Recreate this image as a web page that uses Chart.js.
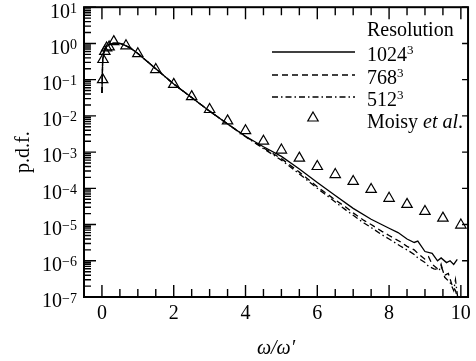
<!DOCTYPE html>
<html>
<head>
<meta charset="utf-8">
<script src="https://cdn.jsdelivr.net/npm/chart.js@4/dist/chart.umd.min.js"></script>
<style>
  html, body { margin: 0; padding: 0; background: #fff; }
  #wrap { width: 476px; height: 361px; }
</style>
</head>
<body>
<div id="wrap"><canvas id="pdfChart"></canvas></div>
<script>
// vorticity magnitude p.d.f. for three grid resolutions + Moisy et al. data
const x1024 = [0, 0.02, 0.06, 0.12, 0.2, 0.3, 0.4, 0.5, 0.6, 0.8, 1.0, 1.5, 2.0, 2.5, 3.0, 3.5, 4.0, 4.5, 5.0, 5.5, 6.0, 6.5, 7.0, 7.5, 8.0, 8.25, 8.5, 8.7, 8.8, 9.0, 9.2, 9.35, 9.45, 9.6, 9.7, 9.8, 9.9];
const pdf1024 = [4.3e-2, 0.35, 0.6, 0.8, 0.92, 1.0, 1.02, 1.0, 0.93, 0.74, 0.53, 0.2, 7.6e-2, 3.2e-2, 1.35e-2, 6.0e-3, 2.75e-3, 1.4e-3, 7.6e-4, 3.4e-4, 1.45e-4, 6.3e-5, 2.8e-5, 1.4e-5, 7.9e-6, 6.0e-6, 4.0e-6, 3.2e-6, 3.5e-6, 1.8e-6, 1.6e-6, 1.0e-6, 1.2e-6, 8.9e-7, 1.0e-6, 7.9e-7, 1.1e-6];

const x768 = [0, 0.02, 0.06, 0.12, 0.2, 0.3, 0.4, 0.5, 0.6, 0.8, 1.0, 1.5, 2.0, 2.5, 3.0, 3.5, 4.0, 4.5, 5.0, 5.5, 6.0, 6.5, 6.8, 7.0, 7.3, 7.5, 7.8, 8.0, 8.3, 8.5, 8.7, 8.8, 9.0, 9.1, 9.2, 9.35, 9.45, 9.55, 9.65, 9.75, 9.85, 9.9, 9.95];
const pdf768 = [4.3e-2, 0.35, 0.6, 0.8, 0.92, 1.0, 1.02, 1.0, 0.93, 0.74, 0.53, 0.2, 7.6e-2, 3.2e-2, 1.35e-2, 6.0e-3, 2.7e-3, 1.3e-3, 6.6e-4, 2.8e-4, 1.1e-4, 4.8e-5, 3.0e-5, 2.1e-5, 1.3e-5, 1.0e-5, 6.5e-6, 5.0e-6, 3.4e-6, 2.5e-6, 2.0e-6, 1.6e-6, 1.1e-6, 1.3e-6, 8.0e-7, 6.0e-7, 7.0e-7, 4.0e-7, 4.5e-7, 2.2e-7, 1.5e-7, 1.0e-7, 6.0e-8];

const x512 = [0, 0.02, 0.06, 0.12, 0.2, 0.3, 0.4, 0.5, 0.6, 0.8, 1.0, 1.5, 2.0, 2.5, 3.0, 3.5, 4.0, 4.5, 5.0, 5.5, 6.0, 6.5, 6.8, 7.0, 7.3, 7.5, 7.8, 8.0, 8.3, 8.5, 8.7, 8.8, 9.0, 9.1, 9.25, 9.4, 9.45, 9.55, 9.7, 9.8, 9.85, 9.9, 9.95];
const pdf512 = [4.3e-2, 0.35, 0.6, 0.8, 0.92, 1.0, 1.02, 1.0, 0.93, 0.74, 0.53, 0.2, 7.5e-2, 3.2e-2, 1.35e-2, 6.0e-3, 2.65e-3, 1.25e-3, 6.0e-4, 2.5e-4, 1.0e-4, 4.2e-5, 2.5e-5, 1.8e-5, 1.1e-5, 8.3e-6, 5.2e-6, 4.0e-6, 2.6e-6, 2.0e-6, 1.5e-6, 1.2e-6, 9.0e-7, 7.0e-7, 6.0e-7, 5.5e-7, 8.0e-7, 3.5e-7, 2.5e-7, 1.5e-7, 3.0e-7, 1.2e-7, 5.0e-8];

const xMoisy = [0.02, 0.03, 0.08, 0.13, 0.2, 0.33, 0.67, 1.0, 1.5, 2.0, 2.5, 3.0, 3.5, 4.0, 4.5, 5.0, 5.5, 6.0, 6.5, 7.0, 7.5, 8.0, 8.5, 9.0, 9.5, 10.0];
const pdfMoisy = [0.1, 0.36, 0.6, 0.75, 0.8, 1.12, 0.86, 0.52, 0.19, 7.4e-2, 3.4e-2, 1.5e-2, 7.3e-3, 3.9e-3, 2.0e-3, 1.14e-3, 6.8e-4, 4.0e-4, 2.4e-4, 1.55e-4, 9.3e-5, 5.3e-5, 3.6e-5, 2.3e-5, 1.5e-5, 9.7e-6];

const seriesNames = ['1024', '768', '512', 'Moisy'];
const xTickValues = [0, 2, 4, 6, 8, 10];
const yTickPowers = [-7, -6, -5, -4, -3, -2, -1, 0, 1];

const serif = "'Liberation Serif', 'Times New Roman', serif";
const dashSolid = [];
const dashDashed = [6, 4];
const dashDot = [6, 3, 1.5, 3];

const toPoints = (xs, ys) => xs.map((x, i) => ({ x: x, y: ys[i] }));

function lineSet(label, xs, ys, dash) {
    return {
        label: label,
        data: toPoints(xs, ys),
        showLine: true,
        borderColor: '#000',
        borderWidth: 1.3,
        borderDash: dash,
        pointRadius: 0,
        tension: 0
    };
}

// frame, inward ticks, y labels with superscripts, and the boxed-in legend
const decorations = {
    id: 'decorations',
    afterDraw(chart) {
        const { ctx, chartArea: a, scales: { x, y } } = chart;
        ctx.save();
        ctx.strokeStyle = '#000';
        ctx.fillStyle = '#000';
        ctx.lineWidth = 2;
        ctx.strokeRect(a.left, a.top, a.right - a.left, a.bottom - a.top);

        ctx.lineWidth = 1.4;
        ctx.beginPath();
        for (let v = 0; v <= 10; v += 0.5) {
            const px = x.getPixelForValue(v);
            const len = xTickValues.includes(v) ? 12 : 8;
            ctx.moveTo(px, a.bottom); ctx.lineTo(px, a.bottom - len);
            ctx.moveTo(px, a.top); ctx.lineTo(px, a.top + len);
        }
        yTickPowers.forEach(e => {
            for (let m = 1; m <= 9; m++) {
                if (e === 1 && m > 1) break;
                const py = y.getPixelForValue(m * Math.pow(10, e));
                const len = m === 1 ? 12 : 7;
                ctx.moveTo(a.left, py); ctx.lineTo(a.left + len, py);
                if (m === 1) { ctx.moveTo(a.right, py); ctx.lineTo(a.right - 6, py); }
            }
        });
        ctx.stroke();

        // y tick labels: 10 with raised exponent
        ctx.textAlign = 'right';
        ctx.textBaseline = 'alphabetic';
        yTickPowers.forEach(e => {
            const py = y.getPixelForValue(Math.pow(10, e));
            const exp = e < 0 ? '\u2212' + (-e) : String(e);
            ctx.font = '14px ' + serif;
            const ew = ctx.measureText(exp).width;
            const right = a.left - 7;
            ctx.fillText(exp, right, py + 5.5);
            ctx.font = '20px ' + serif;
            ctx.fillText('10', right - ew, py + 10.3);
        });

        // legend
        ctx.textAlign = 'left';
        ctx.font = '20px ' + serif;
        const tx = 367;
        ctx.fillText('Resolution', tx, 36);
        const rows = [
            { name: seriesNames[0], dash: dashSolid, ly: 52, by: 61 },
            { name: seriesNames[1], dash: dashDashed, ly: 75, by: 84 },
            { name: seriesNames[2], dash: dashDot, ly: 97, by: 106 }
        ];
        ctx.lineWidth = 1.3;
        rows.forEach(r => {
            ctx.setLineDash(r.dash);
            ctx.beginPath();
            ctx.moveTo(272, r.ly); ctx.lineTo(355, r.ly);
            ctx.stroke();
            ctx.setLineDash([]);
            ctx.font = '20px ' + serif;
            ctx.fillText(r.name, tx, r.by);
            const w = ctx.measureText(r.name).width;
            ctx.font = '13px ' + serif;
            ctx.fillText('3', tx + w, r.by - 7);
        });
        // Moisy et al. marker
        const cx = 313, cy = 118, rad = 6;
        ctx.lineWidth = 1.2;
        ctx.beginPath();
        ctx.moveTo(cx, cy - rad);
        ctx.lineTo(cx + rad * 0.866, cy + rad * 0.5);
        ctx.lineTo(cx - rad * 0.866, cy + rad * 0.5);
        ctx.closePath();
        ctx.stroke();
        ctx.font = '20px ' + serif;
        ctx.fillText('Moisy ', tx, 128);
        const mw = ctx.measureText('Moisy ').width;
        ctx.font = 'italic 20px ' + serif;
        ctx.fillText('et al', tx + mw, 128);
        const ew2 = ctx.measureText('et al').width;
        ctx.font = '20px ' + serif;
        ctx.fillText('.', tx + mw + ew2, 128);
        ctx.restore();
    }
};

new Chart(document.getElementById('pdfChart'), {
    type: 'scatter',
    data: {
        datasets: [
            lineSet(seriesNames[0], x1024, pdf1024, dashSolid),
            lineSet(seriesNames[1], x768, pdf768, dashDashed),
            lineSet(seriesNames[2], x512, pdf512, dashDot),
            {
                label: seriesNames[3],
                data: toPoints(xMoisy, pdfMoisy),
                pointStyle: 'triangle',
                pointRadius: 6,
                borderColor: '#000',
                borderWidth: 1.2,
                backgroundColor: 'rgba(0,0,0,0)'
            }
        ]
    },
    options: {
        responsive: true,
        maintainAspectRatio: false,
        animation: false,
        layout: { padding: { top: 7, right: 1, left: 0, bottom: 0 } },
        plugins: {
            legend: { display: false },
            tooltip: { enabled: false }
        },
        scales: {
            x: {
                type: 'linear',
                min: -0.5,
                max: 10.2,
                grid: { display: false, drawTicks: false },
                border: { display: false },
                afterBuildTicks: s => { s.ticks = xTickValues.map(v => ({ value: v })); },
                afterFit: s => { s.height = 64; },
                ticks: {
                    color: '#000',
                    padding: 5,
                    maxRotation: 0,
                    font: { family: serif, size: 20 }
                },
                title: {
                    display: true,
                    text: 'ω/ω′',
                    color: '#000',
                    padding: { top: 8, bottom: 0 },
                    font: { family: serif, size: 20, style: 'italic' }
                }
            },
            y: {
                type: 'logarithmic',
                min: 1e-7,
                max: 10,
                grid: { display: false, drawTicks: false },
                border: { display: false },
                ticks: { display: false },
                afterFit: s => { s.width = 84; },
                title: {
                    display: true,
                    text: 'p.d.f.',
                    color: '#000',
                    padding: { top: 12, bottom: 0 },
                    font: { family: serif, size: 20 }
                }
            }
        }
    },
    plugins: [decorations]
});
</script>
</body>
</html>
